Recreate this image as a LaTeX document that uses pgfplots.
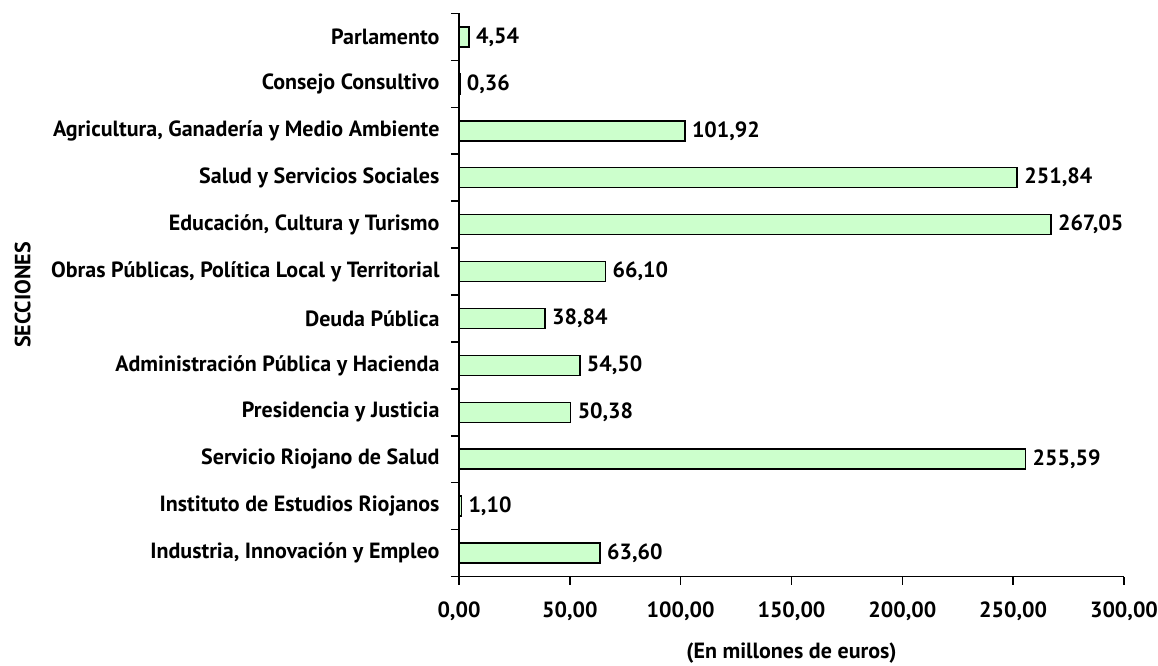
\documentclass[border=0pt]{standalone}
\usepackage{pgfplots}
\pgfplotsset{compat=1.18}
\usepackage{fontspec}
\setmainfont{PT Sans}
\definecolor{barfill}{HTML}{CCFFCC}
\newcommand{\lblfont}{\fontsize{22pt}{26pt}\selectfont\bfseries}
\begin{document}
\begin{tikzpicture}[font=\lblfont]
\begin{axis}[
  name=ax,
  scale only axis,
  width=665pt, height=563pt,
  xmin=0, xmax=300, ymin=-0.5, ymax=11.5,
  xbar, bar width=20pt,
  axis x line*=bottom, axis y line*=left,
  axis line style={line width=1.6pt},
  xtick={0,50,...,300},
  ytick={-0.5,0.5,...,11.5},
  yticklabels={},
  extra y ticks={0,...,11},
  extra y tick labels={{Industria, Innovación y Empleo}, Instituto de Estudios Riojanos, Servicio Riojano de Salud, Presidencia y Justicia, Administración Pública y Hacienda, Deuda Pública, {Obras Públicas, Política Local y Territorial}, {Educación, Cultura y Turismo}, Salud y Servicios Sociales, {Agricultura, Ganadería y Medio Ambiente}, Consejo Consultivo, Parlamento},
  extra y tick style={tick style={draw=none}, yticklabel style={xshift=-8pt}},
  major tick length=8pt,
  tick align=outside,
  tick style={line width=1.6pt, black},
  every tick label/.append style={font=\lblfont},
  /pgf/number format/assume math mode=true,
  xticklabel={\pgfmathprintnumber[fixed, fixed zerofill, precision=2, use comma, 1000 sep={}]{\tick}},
  xticklabel style={yshift=-14pt},
  xlabel={(En millones de euros)},
  ylabel={SECCIONES},
  xlabel style={at={(axis description cs:0.5,-0.136)}, anchor=center},
  ylabel style={at={(axis description cs:-0.656,0.5)}, anchor=center},
  nodes near coords,
  nodes near coords style={anchor=west, xshift=3pt, font=\lblfont, /pgf/number format/.cd, fixed, fixed zerofill, precision=2, use comma, 1000 sep={}, assume math mode=true},
  clip=false,
]
\addplot[fill=barfill, draw=black, line width=1.5pt] coordinates {
(63.60,0) (1.10,1) (255.59,2) (50.38,3) (54.50,4) (38.84,5) (66.10,6) (267.05,7) (251.84,8) (101.92,9) (0.36,10) (4.54,11)
};
\end{axis}
\pgfresetboundingbox
\path ([shift={(-459pt,-88.5pt)}]ax.south west) rectangle ([shift={(34pt,13.5pt)}]ax.north east);
\end{tikzpicture}
\end{document}
